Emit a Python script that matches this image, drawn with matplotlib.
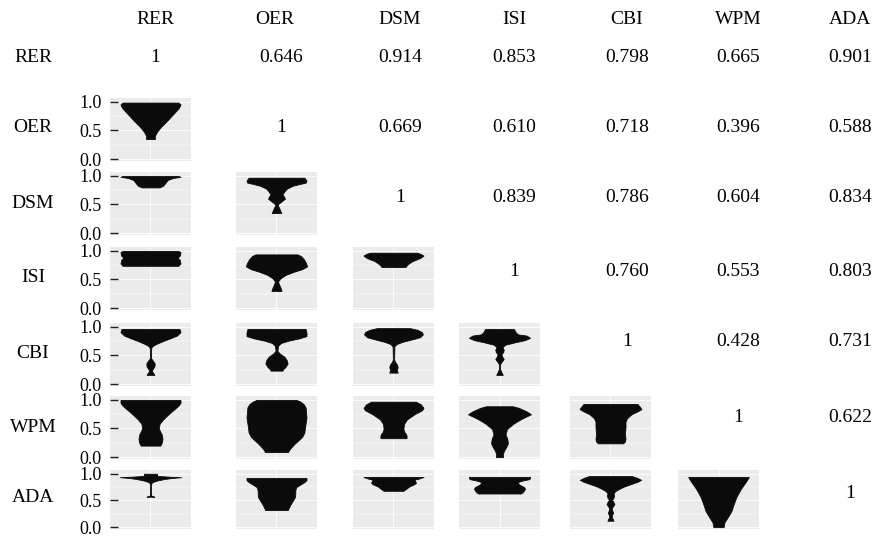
import matplotlib
matplotlib.use("Agg")
import matplotlib.pyplot as plt

plt.rcParams['font.family'] = ['Liberation Serif', 'DejaVu Serif']

names = ["RER", "OER", "DSM", "ISI", "CBI", "WPM", "ADA"]

# upper triangle correlations, row by row
corr_RER = [0.646, 0.914, 0.853, 0.798, 0.665, 0.901]
corr_OER = [0.669, 0.610, 0.718, 0.396, 0.588]
corr_DSM = [0.839, 0.786, 0.604, 0.834]
corr_ISI = [0.760, 0.553, 0.803]
corr_CBI = [0.428, 0.731]
corr_WPM = [0.622]
corr_rows = [corr_RER, corr_OER, corr_DSM, corr_ISI, corr_CBI, corr_WPM, []]

# violin outlines: (value, half width), top to bottom
OER_RER = [(0.99, 0.93), (0.96, 1.0), (0.93, 0.98), (0.885, 0.93), (0.80, 0.78), (0.68, 0.57),
           (0.57, 0.36), (0.48, 0.22), (0.40, 0.14), (0.35, 0.15)]
DSM_RER = [(1.0, 0.93), (0.985, 1.0), (0.965, 0.75), (0.93, 0.57), (0.88, 0.5), (0.83, 0.42), (0.80, 0.3)]
DSM_OER = [(0.97, 0.93), (0.92, 1.0), (0.885, 0.98), (0.85, 0.7), (0.83, 0.55), (0.78, 0.35), (0.74, 0.28),
           (0.68, 0.2), (0.63, 0.26), (0.60, 0.28), (0.56, 0.18), (0.51, 0.06), (0.485, 0.04), (0.45, 0.08),
           (0.40, 0.12), (0.35, 0.16)]
ISI_RER = [(1.0, 0.93), (0.98, 1.0), (0.92, 0.98), (0.88, 0.9), (0.85, 0.97), (0.78, 1.0), (0.74, 0.93)]
ISI_OER = [(0.94, 0.7), (0.91, 0.82), (0.85, 0.92), (0.78, 0.99), (0.73, 1.02), (0.68, 0.85), (0.64, 0.6),
           (0.58, 0.3), (0.52, 0.13), (0.465, 0.05), (0.42, 0.08), (0.36, 0.13), (0.30, 0.17)]
ISI_DSM = [(0.97, 0.78), (0.95, 0.9), (0.92, 1.0), (0.88, 0.9), (0.82, 0.62), (0.77, 0.48), (0.72, 0.4)]
CBI_RER = [(0.965, 0.97), (0.91, 1.0), (0.85, 0.88), (0.80, 0.65), (0.75, 0.4), (0.70, 0.18), (0.66, 0.05),
           (0.62, 0.02), (0.45, 0.02), (0.41, 0.08), (0.36, 0.14), (0.31, 0.13), (0.26, 0.07), (0.235, 0.04),
           (0.16, 0.13)]
CBI_OER = [(0.965, 0.97), (0.90, 1.0), (0.84, 1.0), (0.80, 0.75), (0.76, 0.4), (0.72, 0.15), (0.67, 0.05),
           (0.58, 0.03), (0.53, 0.12), (0.48, 0.26), (0.42, 0.34), (0.36, 0.37), (0.30, 0.3), (0.26, 0.22),
           (0.235, 0.2)]
CBI_DSM = [(0.98, 0.55), (0.95, 0.8), (0.91, 0.95), (0.87, 0.98), (0.82, 0.88), (0.78, 0.6), (0.74, 0.3),
           (0.70, 0.1), (0.66, 0.03), (0.43, 0.02), (0.38, 0.06), (0.34, 0.12), (0.29, 0.14), (0.25, 0.11),
           (0.20, 0.14)]
CBI_ISI = [(0.965, 0.48), (0.90, 0.55), (0.87, 0.62), (0.85, 0.9), (0.81, 1.02), (0.77, 0.85), (0.73, 0.5),
           (0.69, 0.2), (0.65, 0.1), (0.60, 0.14), (0.56, 0.12), (0.52, 0.06), (0.47, 0.1), (0.44, 0.14),
           (0.41, 0.1), (0.37, 0.04), (0.32, 0.01), (0.26, 0.02), (0.22, 0.05), (0.16, 0.11)]
WPM_RER = [(1.0, 1.0), (0.95, 1.0), (0.90, 0.93), (0.84, 0.8), (0.75, 0.6), (0.66, 0.42), (0.58, 0.3),
           (0.50, 0.28), (0.45, 0.32), (0.40, 0.37), (0.32, 0.4), (0.26, 0.38), (0.22, 0.35), (0.20, 0.32)]
WPM_OER = [(1.0, 0.67), (0.97, 0.8), (0.93, 0.9), (0.87, 0.97), (0.69, 1.0), (0.52, 0.95), (0.43, 0.93),
           (0.35, 0.85), (0.23, 0.6), (0.145, 0.45), (0.086, 0.38)]
WPM_DSM = [(0.97, 0.75), (0.92, 0.92), (0.86, 1.0), (0.82, 0.95), (0.75, 0.7), (0.66, 0.45), (0.58, 0.35),
           (0.49, 0.33), (0.44, 0.36), (0.40, 0.42), (0.36, 0.44), (0.33, 0.43)]
WPM_ISI = [(0.89, 0.45), (0.86, 0.65), (0.80, 0.9), (0.75, 1.05), (0.70, 0.85), (0.66, 0.7), (0.58, 0.45),
           (0.49, 0.25), (0.40, 0.2), (0.32, 0.26), (0.24, 0.28), (0.17, 0.22), (0.11, 0.15), (0.05, 0.11),
           (0.0, 0.12)]
WPM_CBI = [(0.93, 0.9), (0.88, 0.98), (0.84, 1.03), (0.80, 0.9), (0.75, 0.7), (0.68, 0.55), (0.62, 0.5),
           (0.52, 0.5), (0.40, 0.48), (0.32, 0.5), (0.27, 0.48), (0.24, 0.42)]
ADA_RER = [(1.0, 0.22), (0.96, 0.22), (0.945, 0.6), (0.935, 1.02), (0.92, 0.7), (0.90, 0.45), (0.87, 0.2),
           (0.84, 0.05), (0.80, 0.015), (0.60, 0.015), (0.58, 0.06), (0.57, 0.13)]
ADA_OER = [(0.92, 1.0), (0.88, 1.0), (0.84, 0.92), (0.80, 0.8), (0.75, 0.66), (0.70, 0.63), (0.57, 0.62),
           (0.50, 0.55), (0.42, 0.46), (0.35, 0.4), (0.32, 0.38)]
ADA_DSM = [(0.94, 1.0), (0.91, 0.85), (0.89, 0.7), (0.86, 0.72), (0.83, 0.75), (0.80, 0.68), (0.76, 0.52),
           (0.72, 0.43), (0.68, 0.33)]
ADA_ISI = [(0.94, 1.02), (0.90, 1.0), (0.87, 0.75), (0.84, 0.6), (0.80, 0.65), (0.75, 0.82), (0.72, 0.85),
           (0.67, 0.8), (0.63, 0.72)]
ADA_CBI = [(0.955, 0.72), (0.92, 0.9), (0.885, 1.02), (0.85, 0.9), (0.81, 0.7), (0.76, 0.45), (0.72, 0.3),
           (0.67, 0.15), (0.63, 0.1), (0.59, 0.12), (0.55, 0.1), (0.51, 0.05), (0.47, 0.1), (0.43, 0.13),
           (0.39, 0.08), (0.35, 0.04), (0.31, 0.06), (0.27, 0.09), (0.23, 0.05), (0.19, 0.04), (0.15, 0.08),
           (0.12, 0.1)]
ADA_WPM = [(0.94, 1.01), (0.90, 0.97), (0.84, 0.9), (0.72, 0.75), (0.57, 0.6), (0.42, 0.5), (0.30, 0.43),
           (0.18, 0.3), (0.09, 0.2), (0.0, 0.17)]

violins = {
    (1, 0): OER_RER,
    (2, 0): DSM_RER, (2, 1): DSM_OER,
    (3, 0): ISI_RER, (3, 1): ISI_OER, (3, 2): ISI_DSM,
    (4, 0): CBI_RER, (4, 1): CBI_OER, (4, 2): CBI_DSM, (4, 3): CBI_ISI,
    (5, 0): WPM_RER, (5, 1): WPM_OER, (5, 2): WPM_DSM, (5, 3): WPM_ISI, (5, 4): WPM_CBI,
    (6, 0): ADA_RER, (6, 1): ADA_OER, (6, 2): ADA_DSM, (6, 3): ADA_ISI, (6, 4): ADA_CBI, (6, 5): ADA_WPM,
}

W, H = 879, 537
fig = plt.figure(figsize=(W / 100, H / 100), dpi=100)

# layout in pixels
panel_left = [110, 236, 353, 459, 570, 678]
panel_top = [None, 98, 172, 247, 323, 396, 470]
panel_h = [None, 63, 63, 63, 63, 63, 59]
pw = 81
head_x = [155, 275, 400, 514, 627, 738, 850]
num_x = [155, 281, 400, 514, 627, 738, 850]
label_y = [57, 128, 203, 277, 353, 427, 497]
num_y = [57, 128, 197, 271, 342, 417, 494]

fs = 14
for j, n in enumerate(names):
    fig.text(head_x[j] / W, 1 - 20 / H, n, ha='center', va='center', fontsize=fs)
for i, n in enumerate(names):
    fig.text(33 / W, 1 - label_y[i] / H, n, ha='center', va='center', fontsize=fs)
    fig.text(num_x[i] / W, 1 - num_y[i] / H, "1", ha='center', va='center', fontsize=fs)
    for k, v in enumerate(corr_rows[i]):
        j = i + 1 + k
        fig.text(num_x[j] / W, 1 - num_y[i] / H, f"{v:.3f}", ha='center', va='center', fontsize=fs)

for (i, j), prof in violins.items():
    x0 = panel_left[j]
    y0 = panel_top[i]
    ph = panel_h[i]
    ax = fig.add_axes([x0 / W, 1 - (y0 + ph) / H, pw / W, ph / H])
    ax.set_facecolor('#ebebeb')
    ys = [p[0] for p in prof]
    ws = [p[1] for p in prof]
    for g in [0.0, 0.5, 1.0]:
        ax.axhline(g, color='white', lw=0.6, zorder=0)
    for g in [0.25, 0.75]:
        ax.axhline(g, color='white', lw=0.3, zorder=0)
    ax.axvline(0, color='white', lw=0.6, zorder=0)
    ax.fill_betweenx(ys, [-w for w in ws], ws, color='#0b0b0b', edgecolor='#0b0b0b', lw=0.6, zorder=2)
    ax.set_xlim(-1.35, 1.35)
    ax.set_ylim(-0.035, 1.07)
    for s in ax.spines.values():
        s.set_visible(False)
    ax.set_xticks([])
    if j == 0:
        ax.set_yticks([0.0, 0.5, 1.0])
        ax.set_yticklabels(["0.0", "0.5", "1.0"], fontsize=13)
        ax.tick_params(axis='y', direction='in', length=6, width=1, color='#222222', pad=6)
    else:
        ax.set_yticks([])

fig.savefig("out.png", dpi=100)
